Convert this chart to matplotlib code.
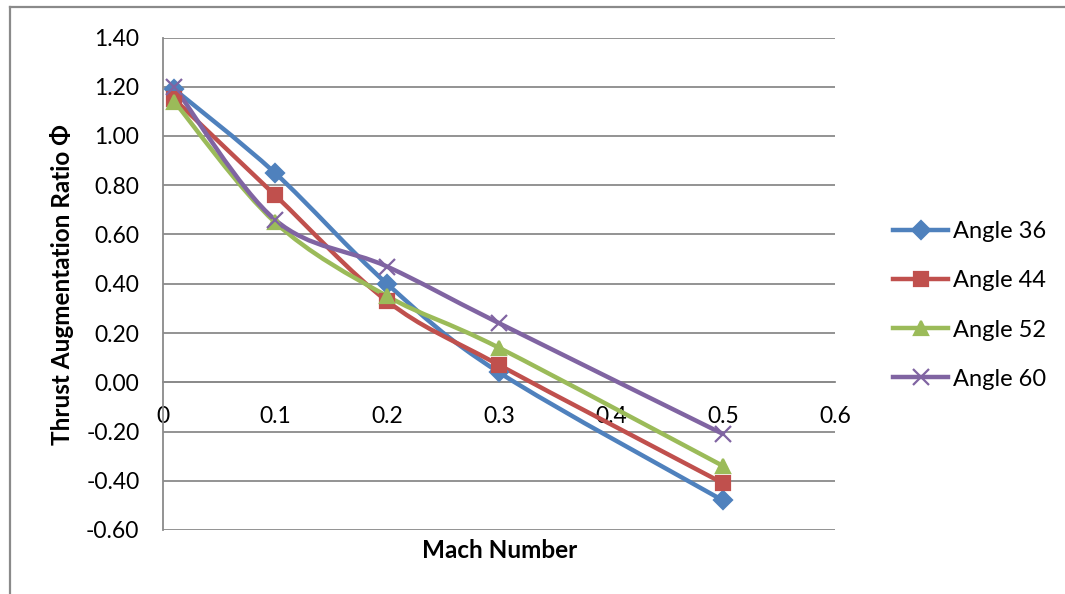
import numpy as np
import matplotlib.pyplot as plt
from matplotlib.path import Path
from matplotlib.patches import PathPatch
from matplotlib.lines import Line2D

plt.rcParams['font.family'] = ['Lato', 'DejaVu Sans']

mach = [0.01, 0.1, 0.2, 0.3, 0.5]
angle36 = [1.19, 0.85, 0.40, 0.04, -0.48]
angle44 = [1.15, 0.76, 0.33, 0.07, -0.41]
angle52 = [1.14, 0.65, 0.35, 0.14, -0.34]
angle60 = [1.20, 0.66, 0.47, 0.24, -0.21]
labels = ['Angle 36', 'Angle 44', 'Angle 52', 'Angle 60']

colors = ['#4F81BD', '#C0504D', '#9BBB59', '#8064A2']
markers = ['D', 's', '^', 'x']
msizes = [9, 10, 10, 11]


def smooth_path(x, y):
    # excel style smoothed line: catmull-rom segments drawn as cubic beziers
    p = np.column_stack([x, y])
    n = len(p)
    verts = [p[0]]
    codes = [Path.MOVETO]
    for i in range(n - 1):
        p0 = p[i - 1] if i > 0 else p[i]
        p3 = p[i + 2] if i + 2 < n else p[i + 1]
        c1 = p[i] + (p[i + 1] - p0) / 6.0
        c2 = p[i + 1] - (p3 - p[i]) / 6.0
        verts += [c1, c2, p[i + 1]]
        codes += [Path.CURVE4] * 3
    return Path(verts, codes)


fig = plt.figure(figsize=(10.65, 5.94), dpi=100)
ax = fig.add_axes([163/1065, 1 - 530/594, 672/1065, 492.5/594])

series = [angle36, angle44, angle52, angle60]
for s, c, m, ms, lab in zip(series, colors, markers, msizes, labels):
    ax.add_patch(PathPatch(smooth_path(mach, s), fill=False, edgecolor=c,
                           lw=3.2, zorder=3, capstyle='round'))
    ax.plot(mach, s, ls='none', marker=m, ms=ms, color=c, mew=1.6, zorder=4)

ax.set_xlim(0, 0.6)
ax.set_ylim(-0.6, 1.4)
ax.set_xticks(np.arange(0, 0.61, 0.1))
ax.set_xticklabels(['0', '0.1', '0.2', '0.3', '0.4', '0.5', '0.6'])
ax.set_yticks(np.arange(-0.6, 1.41, 0.2))
ax.set_yticklabels(['%.2f' % v for v in np.arange(-0.6, 1.41, 0.2)])
ax.grid(axis='y', color='#8a8a8a', lw=1.3, zorder=0)
ax.set_axisbelow(True)

for sp in ['top', 'right']:
    ax.spines[sp].set_visible(False)
ax.spines['bottom'].set_position(('data', 0))
ax.spines['bottom'].set_color('#8a8a8a')
ax.spines['left'].set_color('#8a8a8a')
ax.spines['bottom'].set_linewidth(1.3)
ax.spines['left'].set_linewidth(1.3)
ax.tick_params(axis='x', length=0, pad=17, labelsize=16.5)
ax.tick_params(axis='y', length=0, pad=17, labelsize=16.5)

fig.text(500/1065, 1 - 550/594, 'Mach Number', fontsize=17.5, fontweight='bold',
         ha='center', va='center')
fig.text(62/1065, 1 - 285/594, 'Thrust Augmentation Ratio Φ', fontsize=17.5,
         fontweight='bold', rotation=90, ha='center', va='center')

handles = [Line2D([], [], color=c, lw=3.2, marker=m, ms=ms, mew=1.6)
           for c, m, ms in zip(colors, markers, msizes)]
fig.legend(handles, labels, loc='center left', bbox_to_anchor=(893/1065, 1 - 305.5/594),
           frameon=False, fontsize=17, handlelength=2.35, handletextpad=0.2,
           labelspacing=1.19, borderpad=0, borderaxespad=0)

# outer chart border (only top and left edges are visible)
fig.add_artist(Line2D([10/1065, 10/1065], [0, 1 - 7/594], transform=fig.transFigure,
                      color='#8a8a8a', lw=1.6))
fig.add_artist(Line2D([10/1065, 1], [1 - 7/594, 1 - 7/594], transform=fig.transFigure,
                      color='#8a8a8a', lw=1.6))

fig.savefig('out.png', dpi=100)
